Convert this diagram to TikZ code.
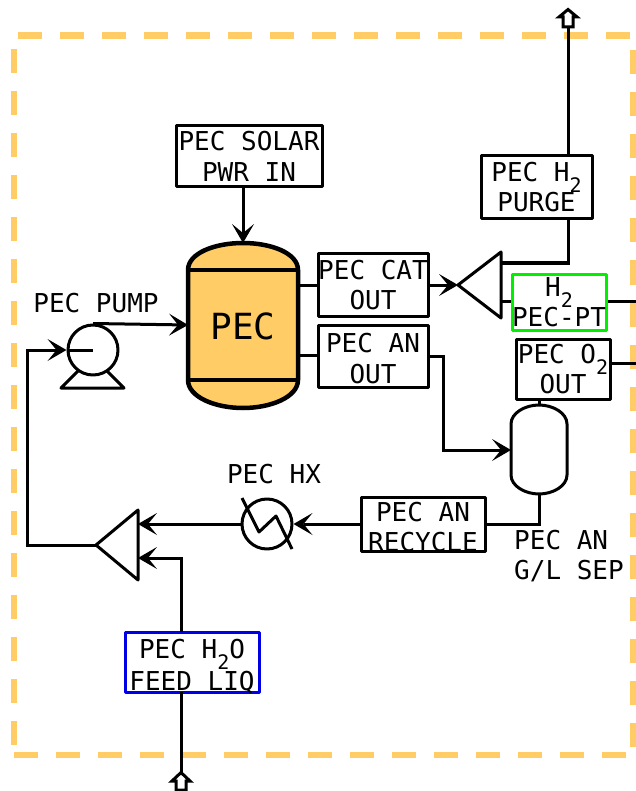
\documentclass[tikz,border=0pt]{standalone}
\usepackage{fontspec}
\setmainfont{DejaVu Sans Mono}
\usetikzlibrary{arrows.meta,calc}
\definecolor{peco}{HTML}{FFCC66}
\definecolor{pecg}{HTML}{00F000}
\definecolor{pecb}{HTML}{0000E6}
\newcommand\subtwo{\smash{\raisebox{-11pt}{\fontsize{20}{20}\selectfont 2}}}
\tikzset{
  lbl/.style={inner sep=0pt,align=center,font=\fontsize{26}{30.5}\selectfont},
  tag/.style={lbl,draw=black,line width=3pt,line join=round},
  pipe/.style={draw=black,line width=3pt,line join=miter},
  flow/.style={pipe,-{Stealth[length=19pt,width=22pt,inset=9pt,line width=0pt]}},
  equip/.style={draw=black,line width=3pt,line join=round},
  port/.style={draw=black,line width=3pt,fill=white,line join=miter},
  edgeline/.style={peco,line width=6.3pt},
}
\begin{document}
\begin{tikzpicture}[x=1pt,y=-1pt]
\useasboundingbox (0,0) rectangle (636,791);
% boundary
\coordinate (bTL) at (14,35.5);
\coordinate (bTR) at (633.5,35.5);
\coordinate (bBR) at (633.5,755);
\coordinate (bBL) at (14,755);
\draw[edgeline,dash pattern=on 24pt off 18pt,dash phase=38pt] (bTL) -- (bTR);
\draw[edgeline,dash pattern=on 24pt off 18pt,dash phase=27pt] (bTR) -- (bBR);
\draw[edgeline,dash pattern=on 24pt off 18pt,dash phase=0pt] (bBL) -- (bBR);
\draw[edgeline,dash pattern=on 24pt off 18pt,dash phase=28.5pt] (bTL) -- (bBL);
% vessel
\path[fill=peco] (188,270) .. controls (188,253) and (215,243) .. (243,243) .. controls (271,243) and (298,253) .. (298,270) -- (298,380) .. controls (298,397) and (271,408) .. (243,408) .. controls (215,408) and (188,397) .. (188,380) -- cycle;
\draw[line width=4.5pt] (188,270) .. controls (188,253) and (215,243) .. (243,243) .. controls (271,243) and (298,253) .. (298,270) -- (298,380) .. controls (298,397) and (271,408) .. (243,408) .. controls (215,408) and (188,397) .. (188,380) -- cycle;
\draw[line width=4.5pt] (188,270) -- (298,270) (188,380) -- (298,380);
\node[lbl,font=\fontsize{36}{40}\selectfont] (pec) at (243,326) {PEC};
\coordinate (vTop) at (243,243);
\coordinate (vLeft) at (188,325);
\coordinate (vCat) at (298,285);
\coordinate (vAn) at (298,355);
% tags
\node[tag,minimum width=146pt,minimum height=61pt] (solar) at (249,156.5) {PEC SOLAR\\PWR IN};
\node[tag,minimum width=110pt,minimum height=62pt] (cat) at (373,285) {PEC CAT\\OUT};
\node[tag,minimum width=110pt,minimum height=62pt] (an) at (373,356) {\rule{0pt}{24pt}PEC AN\\OUT};
\node[tag,minimum width=111pt,minimum height=63pt] (purge) at (536.5,187) {PEC H\subtwo\\PURGE};
\node[tag,draw=pecg,minimum width=94pt,minimum height=56pt] (pt) at (559,302) {H\subtwo\\PEC-PT};
\node[tag,minimum width=94pt,minimum height=60pt] (o2) at (563,369) {PEC O\subtwo\\OUT};
\node[tag,inner ysep=-3pt,minimum width=124pt,minimum height=54pt] (rec) at (423,524) {\rule{0pt}{25pt}PEC AN\\RECYCLE};
\node[tag,inner ysep=-4pt,draw=pecb,minimum width=134pt,minimum height=60pt] (feed) at (192,662) {\rule{0pt}{28pt}PEC H\subtwo O\\[2pt]FEED LIQ};
% free labels
\node[lbl] (lpump) at (96,303) {PEC PUMP};
\node[lbl] (lhx) at (274,474) {PEC HX};
\node[lbl,align=left,anchor=west] (lsep) at (514,556) {PEC AN\\G/L SEP};
% pump
\node[equip,circle,minimum size=50pt,inner sep=0pt] (pump) at (93,350) {};
\draw[equip] (78,371) -- (61,388) -- (124,388) -- (107,371);
\draw[pipe] (68,350) -- (pump.center);
% heat exchanger
\node[equip,circle,minimum size=50pt,inner sep=0pt] (hx) at (267,524) {};
\draw[equip] (242,498) -- (259,532) -- (276,516) -- (292,549);
% splitters
\coordinate (s1T) at (501,252); \coordinate (s1B) at (501,318); \coordinate (s1tip) at (458,285);
\draw[equip] (s1tip) -- (s1T) -- (s1B) -- cycle;
\coordinate (s2T) at (138,510); \coordinate (s2B) at (138,580); \coordinate (s2tip) at (96,545);
\draw[equip] (s2tip) -- (s2T) -- (s2B) -- cycle;
% separator
\coordinate (sTop) at (539,405); \coordinate (sBot) at (539,494); \coordinate (sIn) at (511,450);
\draw[equip] (511,424) .. controls (511,413) and (525,405) .. (sTop) .. controls (553,405) and (567,413) .. (567,424) -- (567,475) .. controls (567,486) and (553,494) .. (sBot) .. controls (525,494) and (511,486) .. (511,475) -- cycle;
% connectors
\draw[flow] (solar.south -| vTop) -- (vTop);
\draw[pipe] (vCat) -- (cat.west);
\draw[pipe] (vAn) -- (an.west |- vAn);
\draw[flow] (cat.east) -- (s1tip);
\draw[pipe] (501,263) -| (568,219);
\coordinate (outTop) at (568,27);
\draw[pipe] (568,155) -- (outTop);
\draw[port] (563,27) -- (563,17) -- (559,17) -- (568,9.5) -- (577,17) -- (573,17) -- (573,27) -- cycle;
\draw[pipe] (501,301) -- (pt.west |- 0,301);
\draw[pipe] (pt.east |- 0,301) -- (636,301);
\draw[pipe] (o2.east |- 0,363) -- (636,363);
\draw[flow] (an.east) -- (443,356) |- (sIn);
\draw[pipe] (sTop) -- (o2.south -| sTop);
\draw[pipe] (sBot) |- (rec.east);
\draw[flow] (rec.west) -- (hx.east);
\draw[flow] (hx.west) -- (s2T |- hx.west);
\draw[flow] (181,632) |- (138,558);
\coordinate (inLow) at (181,773);
\draw[pipe] (181,692) -- (inLow);
\draw[port] (176,790) -- (176,781) -- (172,781) -- (181,772.5) -- (190,781) -- (186,781) -- (186,790) -- cycle;
\draw[flow] (s2tip) -- (27,545) |- (pump.west);
\draw[flow] (pump.north) -- (vLeft);
\end{tikzpicture}
\end{document}
